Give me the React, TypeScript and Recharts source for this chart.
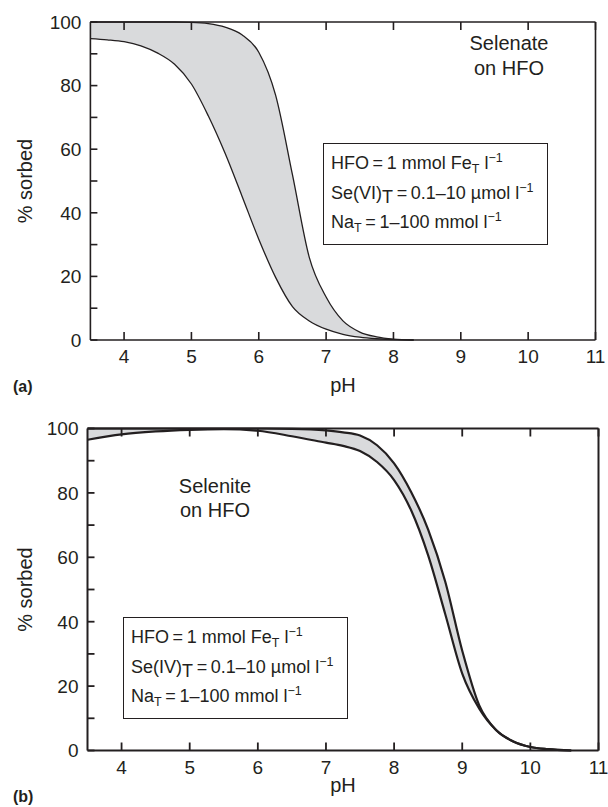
import { ComposedChart, Area, Line, XAxis, YAxis } from 'recharts';
import type { CSSProperties, ReactNode } from 'react';

// (a) selenate on HFO — pH grid and the two bounding curves (% sorbed)
const phA = [3.5, 3.75, 4, 4.25, 4.5, 4.75, 5, 5.25, 5.5, 5.75, 6, 6.25, 6.5, 6.75, 7, 7.25, 7.5, 7.75, 8, 8.3];
const upperA = [100, 100, 100, 100, 100, 100, 99.9, 99.5, 98.4, 96, 90.5, 77, 52, 26, 13.5, 6, 2.5, 1, 0.3, 0];
const lowerA = [94.8, 94.4, 93.8, 92.5, 90.2, 86.7, 80.5, 70.5, 58.7, 45.3, 31.7, 19.7, 10.5, 6, 3.4, 1.8, 0.9, 0.4, 0.1, 0];

// (b) selenite on HFO
const phB = [3.5, 4, 4.5, 5, 5.5, 6, 6.5, 7, 7.25, 7.5, 7.75, 8, 8.25, 8.5, 8.75, 9, 9.25, 9.5, 9.75, 10, 10.25, 10.6];
const upperB = [100, 100, 100, 100, 100, 100, 99.9, 99.4, 98.8, 97.8, 94.8, 89.2, 80.3, 68.6, 52.5, 31, 14, 6.3, 2.8, 1.1, 0.4, 0];
const lowerB = [96.5, 98.2, 99.1, 99.6, 99.8, 99.3, 97.6, 95.6, 94.6, 93, 89.6, 84, 74.6, 60.6, 42.4, 23.9, 13, 6.3, 2.8, 1.1, 0.4, 0];

const xTicks = [4, 5, 6, 7, 8, 9, 10, 11];
const yTicks = [0, 10, 20, 30, 40, 50, 60, 70, 80, 90, 100];
const yLabelTicks = [0, 20, 40, 60, 80, 100];

const FONT = '"Liberation Sans", Arial, Helvetica, sans-serif';
const INK = '#231f20';
const BAND = '#d9dadc';

const toRows = (ph: number[], lower: number[], upper: number[]) =>
  ph.map((p, i) => ({ ph: p, lower: lower[i], upper: upper[i], band: [lower[i], upper[i]] }));

const X_MARGIN = 10; // gap between axis and x tick labels
const Y_MARGIN = 9; // gap between axis and y tick labels
const X_TICK_LEN = 8;
const Y_TICK_LEN = 7;

// inward tick marks are drawn by the tick renderers themselves
function BottomTick(props: any) {
  const { x, y, payload, w } = props;
  const px = Number(x);
  const axisY = Number(y) - X_MARGIN;
  return (
    <g>
      <rect x={px - w / 2} y={axisY - X_TICK_LEN} width={w} height={X_TICK_LEN} fill={INK} />
      <text x={px} y={Number(y)} dy="0.71em" textAnchor="middle" fill={INK} fontSize={19} fontFamily={FONT}>
        {payload.value}
      </text>
    </g>
  );
}

function TopTick(props: any) {
  const { x, y, w } = props;
  return <rect x={Number(x) - w / 2} y={Number(y)} width={w} height={X_TICK_LEN} fill={INK} />;
}

function LeftTick(props: any) {
  const { x, y, payload, w } = props;
  const axisX = Number(x) + Y_MARGIN;
  return (
    <g>
      <rect x={axisX} y={Number(y) - w / 2} width={Y_TICK_LEN} height={w} fill={INK} />
      {yLabelTicks.includes(payload.value) && (
        <text x={Number(x)} y={Number(y)} dy="0.36em" textAnchor="end" fill={INK} fontSize={19} fontFamily={FONT}>
          {payload.value}
        </text>
      )}
    </g>
  );
}

function RightTick(props: any) {
  const { x, y, w } = props;
  return <rect x={Number(x) - Y_TICK_LEN} y={Number(y) - w / 2} width={Y_TICK_LEN} height={w} fill={INK} />;
}

function YTitle({ cy }: { cy: number }) {
  return (
    <text
      x={25}
      y={cy}
      transform={`rotate(-90 25 ${cy})`}
      textAnchor="middle"
      dominantBaseline="central"
      fill={INK}
      fontSize={20}
      fontFamily={FONT}
    >
      % sorbed
    </text>
  );
}

function XTitle({ cx }: { cx: number }) {
  return (
    <text x={cx} y={392} textAnchor="middle" fill={INK} fontSize={20} fontFamily={FONT}>
      pH
    </text>
  );
}

interface PanelProps {
  rows: ReturnType<typeof toRows>;
  height: number;
  margin: { top: number; right: number; bottom: number; left: number };
  lineWidth: number;
  frameWidth: number;
  cx: number;
  cy: number;
  tickWidth: number;
}

function Panel({ rows, height, margin, lineWidth, frameWidth, cx, cy, tickWidth }: PanelProps) {
  const axisLine = { stroke: INK, strokeWidth: frameWidth };
  return (
    <ComposedChart width={608} height={height} data={rows} margin={margin}>
      <Area
        dataKey="band"
        type="monotone"
        fill={BAND}
        fillOpacity={1}
        stroke="none"
        isAnimationActive={false}
      />
      <Line dataKey="lower" type="monotone" stroke={INK} strokeWidth={lineWidth} dot={false} isAnimationActive={false} />
      <Line dataKey="upper" type="monotone" stroke={INK} strokeWidth={lineWidth} dot={false} isAnimationActive={false} />
      <XAxis
        dataKey="ph"
        type="number"
        domain={[3.5, 11]}
        ticks={xTicks}
        interval={0}
        height={30}
        tickSize={0}
        tickMargin={X_MARGIN}
        tick={<BottomTick w={tickWidth} />}
        axisLine={axisLine}
        label={<XTitle cx={cx} />}
      />
      <XAxis
        xAxisId="t"
        orientation="top"
        dataKey="ph"
        type="number"
        domain={[3.5, 11]}
        ticks={xTicks}
        interval={0}
        height={10}
        tickSize={0}
        tickMargin={0}
        tick={<TopTick w={tickWidth} />}
        axisLine={axisLine}
      />
      <YAxis
        type="number"
        domain={[0, 100]}
        ticks={yTicks}
        interval={0}
        width={60}
        tickSize={0}
        tickMargin={Y_MARGIN}
        tick={<LeftTick w={tickWidth} />}
        axisLine={axisLine}
        label={<YTitle cy={cy} />}
      />
      <YAxis
        yAxisId="r"
        orientation="right"
        type="number"
        domain={[0, 100]}
        ticks={yTicks}
        interval={0}
        width={5}
        tickSize={0}
        tickMargin={0}
        tick={<RightTick w={tickWidth} />}
        axisLine={axisLine}
      />
    </ComposedChart>
  );
}

const sub: CSSProperties = { fontSize: 12.5, position: 'relative', top: 4 };
const subBig: CSSProperties = { position: 'relative', top: 4 };
const sup: CSSProperties = { fontSize: 12.5, position: 'relative', top: -7 };

function ConditionsBox({ left, top, element }: { left: number; top: number; element: ReactNode }) {
  return (
    <div
      style={{
        position: 'absolute',
        left,
        top,
        width: 225,
        height: 102,
        boxSizing: 'border-box',
        border: `1px solid ${INK}`,
        padding: '6.2px 0 0 7px',
        fontSize: 18,
        lineHeight: '27.5px',
        color: INK,
        whiteSpace: 'nowrap',
      }}
    >
      <div>
        HFO{'\u2009'}={'\u2009'}1 mmol Fe<span style={sub}>T</span> l<span style={sup}>−1</span>
      </div>
      <div>
        Se({element})<span style={subBig}>T</span>{'\u2009'}={'\u2009'}0.1–10 µmol l<span style={sup}>−1</span>
      </div>
      <div>
        Na<span style={sub}>T</span>{'\u2009'}={'\u2009'}1–100 mmol l<span style={sup}>−1</span>
      </div>
    </div>
  );
}

const caption: CSSProperties = {
  position: 'absolute',
  width: 120,
  textAlign: 'center',
  fontSize: 20,
  color: INK,
};

const panelTag: CSSProperties = {
  position: 'absolute',
  left: 13,
  fontSize: 16,
  fontWeight: 'bold',
  lineHeight: '16px',
  color: INK,
};

export default function App() {
  const rowsA = toRows(phA, lowerA, upperA);
  const rowsB = toRows(phB, lowerB, upperB);
  return (
    <div
      style={{
        position: 'fixed',
        left: 0,
        top: 0,
        width: 608,
        height: 807,
        background: '#fff',
        fontFamily: FONT,
      }}
    >
      <div style={{ position: 'absolute', left: 0, top: 0 }}>
        <Panel
          rows={rowsA}
          height={400}
          margin={{ top: 12, right: 7.5, bottom: 30, left: 30.4 }}
          lineWidth={1.3}
          frameWidth={1.6}
          cx={343}
          cy={181}
          tickWidth={1.6}
        />
      </div>
      <div style={{ position: 'absolute', left: 0, top: 400 }}>
        <Panel
          rows={rowsB}
          height={407}
          margin={{ top: 18.5, right: 4.5, bottom: 26.5, left: 27.5 }}
          lineWidth={2.2}
          frameWidth={2}
          cx={343}
          cy={189.5}
          tickWidth={1.8}
        />
      </div>

      <div style={{ ...caption, left: 449, top: 30.6, lineHeight: '25px' }}>
        Selenate
        <br />
        on HFO
      </div>
      <ConditionsBox left={323} top={143} element="VI" />
      <div style={{ ...panelTag, top: 379 }}>(a)</div>

      <div style={{ ...caption, left: 155, top: 474.3, lineHeight: '24px' }}>
        Selenite
        <br />
        on HFO
      </div>
      <ConditionsBox left={123} top={617} element="IV" />
      <div style={{ ...panelTag, top: 789 }}>(b)</div>
    </div>
  );
}
